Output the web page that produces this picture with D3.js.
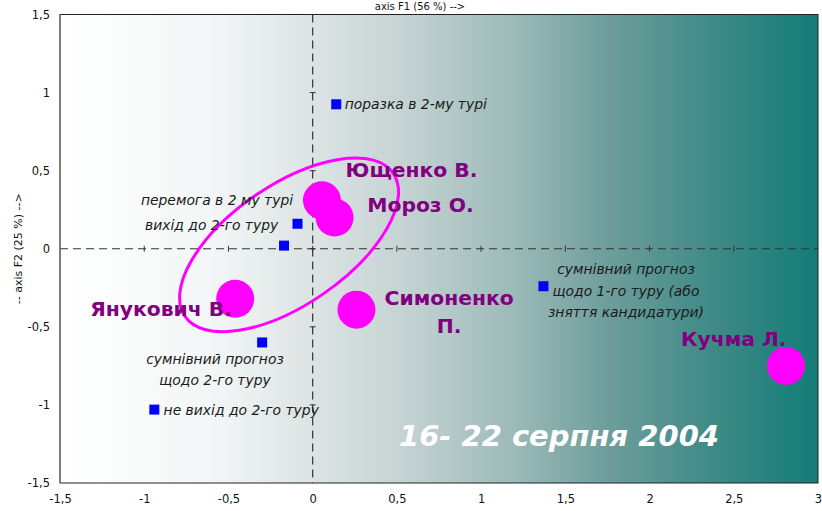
<!DOCTYPE html>
<html><head><meta charset="utf-8">
<script src="https://cdn.jsdelivr.net/npm/d3@7"></script>
<style>body{margin:0;background:#fff}svg{display:block}</style>
</head><body>
<script>
const xTicks = [-1.5,-1,-0.5,0,0.5,1,1.5,2,2.5,3];
const yTicks = [-1.5,-1,-0.5,0,0.5,1,1.5];
const candidates = ["Ющенко В.","Мороз О.","Янукович В.","Симоненко П.","Кучма Л."];
const candX = [0.055,0.13,-0.46,0.26,2.81];
const candY = [0.31,0.20,-0.32,-0.39,-0.75];
const candLabelLines = [["Ющенко В."],["Мороз О."],["Янукович В."],["Симоненко","П."],["Кучма Л."]];
const candLabelPos = [[0.587,0.462],[0.64,0.235],[-0.9,-0.43],[0.81,-0.36],[2.5,-0.62]];
const outcomes = ["поразка в 2-му турі","вихід до 2-го туру","перемога в 2 му турі","сумнівний прогноз щодо 1-го туру (або зняття кандидатури)","сумнівний прогноз щодо 2-го туру","не вихід до 2-го туру"];
const outX = [0.14,-0.09,-0.17,1.37,-0.30,-0.94];
const outY = [0.925,0.16,0.02,-0.24,-0.60,-1.03];
const outLabelLines = [["поразка в 2-му турі"],["вихід до 2-го туру"],["перемога в 2 му турі"],["сумнівний прогноз","щодо 1-го туру (або","зняття кандидатури)"],["сумнівний прогноз","щодо 2-го туру"],["не вихід до 2-го туру"]];
const outLabelPos = [[0.19,0.894],[-0.60,0.12],[-0.568,0.28],[1.86,-0.163],[-0.58,-0.737],[-0.885,-1.065]];
const outAnchor = ["start","middle","middle","middle","middle","start"];
const ellipse = {cx:-0.14, cy:0.025, a:0.75, b:0.355, angle:34.5};
const titleX = "axis F1 (56 %) -->";
const titleY = "-- axis F2 (25 %) -->";
const dateLabel = "16- 22 серпня 2004";

const W=822,H=511, L=60, R=818, T=14.5, B=483;
const svg = d3.select("body").append("svg").attr("width",W).attr("height",H);
const x = d3.scaleLinear().domain([-1.5,3]).range([L,R]);
const y = d3.scaleLinear().domain([-1.5,1.5]).range([B,T]);
const font = "'DejaVu Sans', Verdana, sans-serif";
const fmt = d => String(d).replace(".",",");

const defs = svg.append("defs");
const g = defs.append("linearGradient").attr("id","bg").attr("x1","0").attr("x2","1").attr("y1","0").attr("y2","0");
[[0,"#ffffff"],[0.2,"#f3f6f6"],[0.33,"#dde4e4"],[0.45,"#c6d3d3"],[0.6,"#9bbab8"],[0.72,"#6f9e9c"],[0.86,"#3f8a86"],[1,"#137c77"]]
  .forEach(s=>g.append("stop").attr("offset",s[0]).attr("stop-color",s[1]));

svg.append("rect").attr("x",L).attr("y",T).attr("width",R-L).attr("height",B-T).attr("fill","url(#bg)");

// zero lines
svg.append("line").attr("x1",x(0)).attr("x2",x(0)).attr("y1",T).attr("y2",B)
  .attr("stroke","#333").attr("stroke-width",1.2).attr("stroke-dasharray","8,5");
svg.append("line").attr("x1",L).attr("x2",R).attr("y1",y(0)).attr("y2",y(0))
  .attr("stroke","#333").attr("stroke-width",1.2).attr("stroke-dasharray","8,5");
// small tick crosses on zero lines
svg.selectAll(".tx").data(xTicks.filter(d=>d>-1.5&&d<3)).enter().append("line")
  .attr("x1",d=>x(d)).attr("x2",d=>x(d)).attr("y1",y(0)-3).attr("y2",y(0)+3).attr("stroke","#333");
svg.selectAll(".ty").data(yTicks.filter(d=>d>-1.5&&d<1.5)).enter().append("line")
  .attr("x1",x(0)-3).attr("x2",x(0)+3).attr("y1",d=>y(d)).attr("y2",d=>y(d)).attr("stroke","#333");

// frame
svg.append("rect").attr("x",L).attr("y",T).attr("width",R-L).attr("height",B-T)
  .attr("fill","none").attr("stroke","#222").attr("stroke-width",1);
svg.append("line").attr("x1",L).attr("x2",L).attr("y1",T).attr("y2",B).attr("stroke","#777").attr("stroke-width",1.5);

// axes
const xa = svg.append("g").attr("transform",`translate(0,${B})`)
  .call(d3.axisBottom(x).tickValues(xTicks).tickSize(0).tickPadding(12).tickFormat(fmt));
const ya = svg.append("g").attr("transform",`translate(${L},0)`)
  .call(d3.axisLeft(y).tickValues(yTicks).tickSize(0).tickPadding(10).tickFormat(fmt));
[xa,ya].forEach(a=>{a.select(".domain").remove();a.selectAll("text").attr("font-family",font).attr("font-size",11.5).attr("fill","#111");});

svg.append("text").attr("x",420).attr("y",10).attr("text-anchor","middle").attr("font-family",font)
  .attr("font-size",10).attr("fill","#111").text(titleX);
svg.append("text").attr("transform",`translate(22,${y(0)}) rotate(-90)`).attr("text-anchor","middle")
  .attr("font-family",font).attr("font-size",11).attr("fill","#111").text(titleY);

// ellipse
const cxp=x(ellipse.cx), cyp=y(ellipse.cy), ap=x(ellipse.a)-x(0), bp=x(ellipse.b)-x(0);
svg.append("ellipse").attr("cx",0).attr("cy",0).attr("rx",ap).attr("ry",bp)
  .attr("transform",`translate(${cxp},${cyp}) rotate(${-ellipse.angle})`)
  .attr("fill","none").attr("stroke","#ff00ff").attr("stroke-width",3);

// outcome squares
svg.selectAll(".sq").data(outcomes).enter().append("rect")
  .attr("x",(d,i)=>x(outX[i])-5).attr("y",(d,i)=>y(outY[i])-5).attr("width",10).attr("height",10).attr("fill","#0000ff");

// outcome labels
outcomes.forEach((o,i)=>{
  const t = svg.append("text").attr("x",x(outLabelPos[i][0])).attr("y",y(outLabelPos[i][1]))
    .attr("text-anchor",outAnchor[i]).attr("font-family",font).attr("font-style","italic")
    .attr("font-size",13.9).attr("fill","#1a1a1a");
  outLabelLines[i].forEach((ln,j)=>t.append("tspan").attr("x",x(outLabelPos[i][0])).attr("dy",j?"1.55em":0).text(ln));
});

// candidate circles
svg.selectAll(".c").data(candidates).enter().append("circle")
  .attr("cx",(d,i)=>x(candX[i])).attr("cy",(d,i)=>y(candY[i])).attr("r",19).attr("fill","#ff00ff");

// candidate labels
candidates.forEach((c,i)=>{
  const lines=candLabelLines[i];
  const t = svg.append("text").attr("x",x(candLabelPos[i][0])).attr("y",y(candLabelPos[i][1]))
    .attr("text-anchor","middle").attr("font-family",font).attr("font-weight","bold")
    .attr("font-size",20.3).attr("fill","#800080");
  lines.forEach((ln,j)=>t.append("tspan").attr("x",x(candLabelPos[i][0])).attr("dy",j?"1.38em":0).text(ln));
});

svg.append("text").attr("x",559).attr("y",446).attr("text-anchor","middle").attr("font-family",font)
  .attr("font-weight","bold").attr("font-style","italic").attr("font-size",29).attr("fill","#ffffff").text(dateLabel);
</script>
</body></html>
